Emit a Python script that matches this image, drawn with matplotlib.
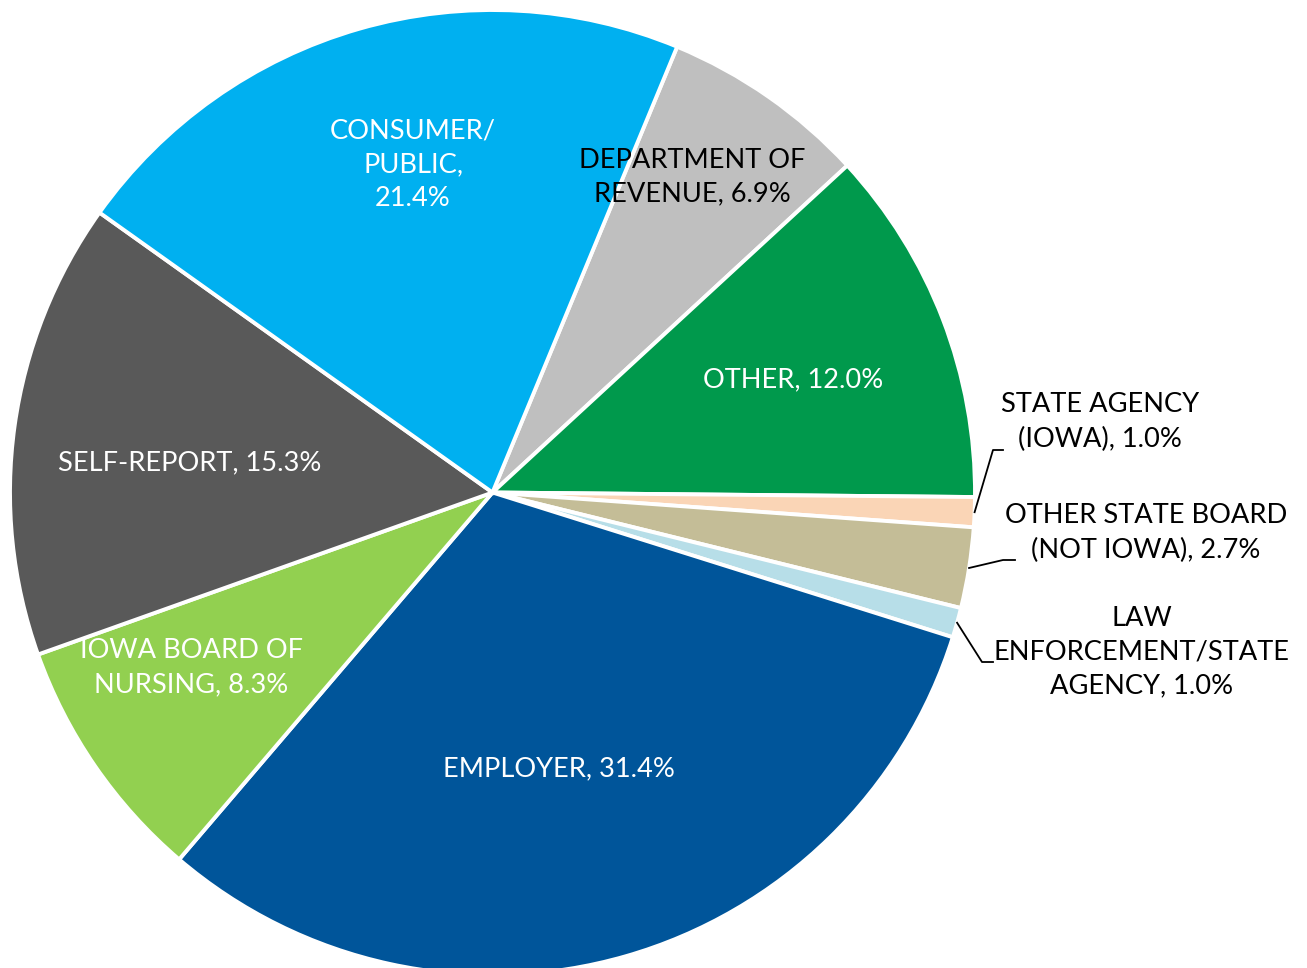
import matplotlib
matplotlib.use("Agg")
import matplotlib.pyplot as plt
import numpy as np

# slices in clockwise order, starting at the consumer/department boundary
categories = [
    "DEPARTMENT OF\nREVENUE",
    "OTHER",
    "STATE AGENCY\n(IOWA)",
    "OTHER STATE BOARD\n(NOT IOWA)",
    "LAW\nENFORCEMENT/STATE\nAGENCY",
    "EMPLOYER",
    "IOWA BOARD OF\nNURSING",
    "SELF-REPORT",
    "CONSUMER/\nPUBLIC",
]
shares = [6.9, 12.0, 1.0, 2.7, 1.0, 31.4, 8.3, 15.3, 21.4]
colors = ["#BFBFBF", "#00994C", "#FAD5B6", "#C4BD97", "#B7DEE8",
          "#00559A", "#92D050", "#595959", "#00B0F0"]
text_colors = ["black", "white", "black", "black", "black",
               "white", "white", "white", "white"]

W, H = 1307, 968
CX, CY, R = 492.5, 492.5, 482.5


def px(x, y):
    """pixel position (from top-left) -> pie data coordinates"""
    return (x - CX) / R, (CY - y) / R


# label centres (pixels) and elbows for the leader lines
label_pos = [(692, 177), (793, 380), (1100, 422), (1146, 533), (1142, 652),
             (559, 769), (191, 668), (190, 463), (413, 165)]
elbows = {2: [(993, 450), (1003, 450)],
          3: [(1003, 560), (1015, 560)],
          4: [(982, 662), (993, 662)]}

fig = plt.figure(figsize=(W / 100, H / 100), dpi=100)
ax = fig.add_axes([(CX - R) / W, (H - (CY + R)) / H, 2 * R / W, 2 * R / H])
wedges, _ = ax.pie(shares, colors=colors, startangle=67.5, counterclock=False,
                   radius=1.0,
                   wedgeprops=dict(edgecolor="white", linewidth=2.8))
ax.set_xlim(-1, 1)
ax.set_ylim(-1, 1)
ax.set_aspect("equal", adjustable="box")
ax.axis("off")

for i, (cat, val) in enumerate(zip(categories, shares)):
    sep = ",\n" if cat.startswith("CONSUMER") else ", "
    label = f"{cat}{sep}{val:.1f}%"
    x, y = px(*label_pos[i])
    ax.text(x, y, label, ha="center", va="center", fontsize=19.6,
            color=text_colors[i], family="Lato", linespacing=1.45)
    if i in elbows:
        w = wedges[i]
        mid = np.deg2rad((w.theta1 + w.theta2) / 2)
        pts = [(np.cos(mid), np.sin(mid))] + [px(*p) for p in elbows[i]]
        xs, ys = zip(*pts)
        ax.plot(xs, ys, color="black", lw=1.3, clip_on=False)

fig.savefig("out.png", dpi=100)
